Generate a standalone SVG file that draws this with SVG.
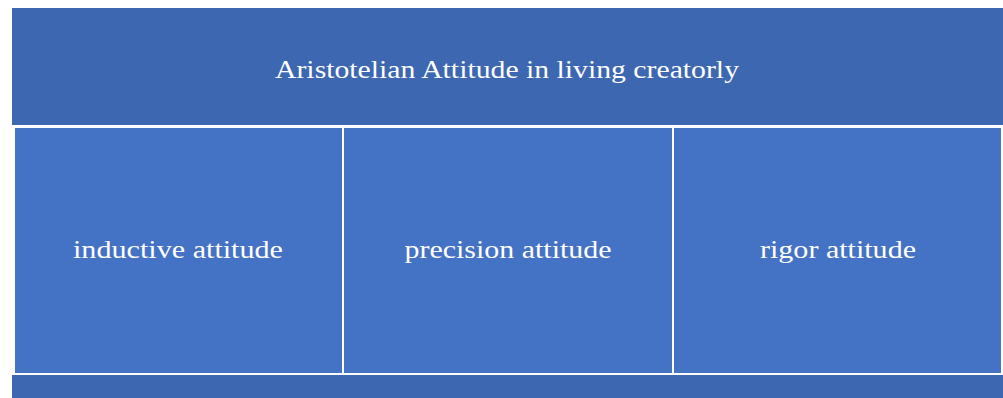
<svg xmlns="http://www.w3.org/2000/svg" width="1003" height="398" viewBox="0 0 1003 398">
<style>
.hdr{fill:#3D67B1}
.box{fill:#4472C4;stroke:#FFFFFF;stroke-width:2}
.t{font-family:"Liberation Serif","DejaVu Serif",serif;font-size:26px;fill:#FFFFFF;text-anchor:middle}
</style>
<rect x="0" y="0" width="1003" height="398" fill="#FFFFFF"/>
<g id="header">
<rect class="hdr" x="12" y="8" width="991" height="117"/>
<text class="t" x="507" y="78" textLength="464" lengthAdjust="spacingAndGlyphs">Aristotelian Attitude in living creatorly</text>
</g>
<g id="footer">
<rect class="hdr" x="12" y="375" width="991" height="23"/>
</g>
<g id="inductive">
<rect class="box" x="14" y="127" width="329" height="247"/>
<text class="t" x="178" y="258" textLength="210" lengthAdjust="spacingAndGlyphs">inductive attitude</text>
</g>
<g id="precision">
<rect class="box" x="343" y="127" width="330" height="247"/>
<text class="t" x="508" y="258" textLength="207" lengthAdjust="spacingAndGlyphs">precision attitude</text>
</g>
<g id="rigor">
<rect class="box" x="673" y="127" width="329" height="247"/>
<text class="t" x="838" y="258" textLength="156" lengthAdjust="spacingAndGlyphs">rigor attitude</text>
</g>
<g id="connectors"></g>
</svg>
